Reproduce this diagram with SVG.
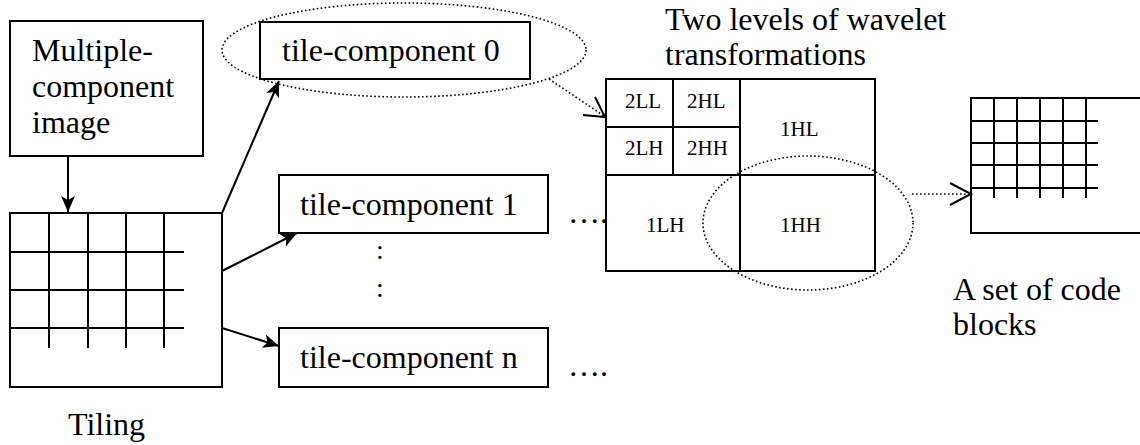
<svg xmlns="http://www.w3.org/2000/svg" width="1140" height="445" viewBox="0 0 1140 445">
  <style>
    .box { fill: #fff; stroke: #000; stroke-width: 2; }
    .grid { stroke: #000; stroke-width: 2; fill: none; }
    .line { stroke: #000; stroke-width: 2; fill: none; }
    .dot { stroke: #000; stroke-width: 1.6; fill: none; stroke-dasharray: 1.6 2.4; }
  </style>
  <defs>
    <marker id="head" markerUnits="userSpaceOnUse" markerWidth="18" markerHeight="16" refX="16" refY="7" orient="auto">
      <path d="M0,0 L16,7 L0,14 L4,7 z" fill="#000"/>
    </marker>
  </defs>

  <rect width="1140" height="445" fill="#fff"/>

  <!-- dotted selection around the first tile-component -->
  <ellipse cx="404" cy="50" rx="182" ry="47" class="dot"/>

  <g id="source">
    <rect x="10" y="21" width="193" height="135" class="box"/>
    <text x="32" y="61" font-family="Liberation Serif" font-size="32">Multiple-</text>
    <text x="32" y="97" font-family="Liberation Serif" font-size="32">component</text>
    <text x="32" y="133" font-family="Liberation Serif" font-size="32">image</text>
  </g>

  <g id="tiling">
    <rect x="10" y="213" width="212" height="174" class="box"/>
    <path class="grid" d="M49,213V348M88,213V348M126,213V348M164,213V348M10,252H184M10,290H184M10,328H184"/>
    <text x="68" y="435" font-family="Liberation Serif" font-size="32">Tiling</text>
  </g>

  <g id="tc0">
    <rect x="260" y="22" width="270" height="57" class="box"/>
    <text x="282" y="61" font-family="Liberation Serif" font-size="32">tile-component 0</text>
  </g>

  <g id="tc1">
    <rect x="279" y="175" width="269" height="58" class="box"/>
    <text x="300" y="215" font-family="Liberation Serif" font-size="32">tile-component 1</text>
    <text x="568" y="223" font-family="Liberation Serif" font-size="32">….</text>
  </g>

  <g id="vdots">
    <text x="376" y="259" font-family="Liberation Serif" font-size="28">:</text>
    <text x="376" y="297" font-family="Liberation Serif" font-size="28">:</text>
  </g>

  <g id="tcn">
    <rect x="279" y="328" width="269" height="59" class="box"/>
    <text x="300" y="368" font-family="Liberation Serif" font-size="32">tile-component n</text>
    <text x="568" y="376" font-family="Liberation Serif" font-size="32">….</text>
  </g>

  <g id="wavelet">
    <text x="665" y="30" font-family="Liberation Serif" font-size="32">Two levels of wavelet</text>
    <text x="665" y="65" font-family="Liberation Serif" font-size="32">transformations</text>
    <rect x="606" y="79" width="269" height="192" class="box"/>
    <path class="grid" d="M740,79V271M606,175H875M673,79V175M606,127H740"/>
    <text x="625" y="108" font-family="Liberation Serif" font-size="21">2LL</text>
    <text x="687" y="108" font-family="Liberation Serif" font-size="21">2HL</text>
    <text x="625" y="155" font-family="Liberation Serif" font-size="21">2LH</text>
    <text x="687" y="155" font-family="Liberation Serif" font-size="21">2HH</text>
    <text x="780" y="136" font-family="Liberation Serif" font-size="21">1HL</text>
    <text x="646" y="232" font-family="Liberation Serif" font-size="21">1LH</text>
    <text x="780" y="232" font-family="Liberation Serif" font-size="21">1HH</text>
  </g>

  <!-- dotted selection around the 1HH sub-band -->
  <ellipse cx="808" cy="223" rx="105" ry="67" class="dot"/>

  <g id="codeblocks">
    <rect x="971" y="98" width="180" height="135" class="box"/>
    <path class="grid" d="M994,98V198M1017,98V198M1040,98V198M1063,98V198M1086,98V198M971,121H1098M971,143H1098M971,165H1098M971,188H1098"/>
    <text x="953" y="300" font-family="Liberation Serif" font-size="32">A set of code</text>
    <text x="953" y="335" font-family="Liberation Serif" font-size="32">blocks</text>
  </g>

  <g id="connectors">
    <line class="line" x1="68" y1="156" x2="68" y2="212" marker-end="url(#head)"/>
    <line class="line" x1="222" y1="213" x2="279" y2="81" marker-end="url(#head)"/>
    <line class="line" x1="222" y1="271" x2="297" y2="233" marker-end="url(#head)"/>
    <line class="line" x1="222" y1="328" x2="279" y2="346" marker-end="url(#head)"/>
    <line class="dot" x1="549" y1="79" x2="604" y2="116"/>
    <path class="line" d="M595,97L605,117L583,115"/>
    <line class="dot" x1="912" y1="194" x2="969" y2="194"/>
    <path class="line" d="M950,183L971,194L950,205"/>
  </g>
</svg>
